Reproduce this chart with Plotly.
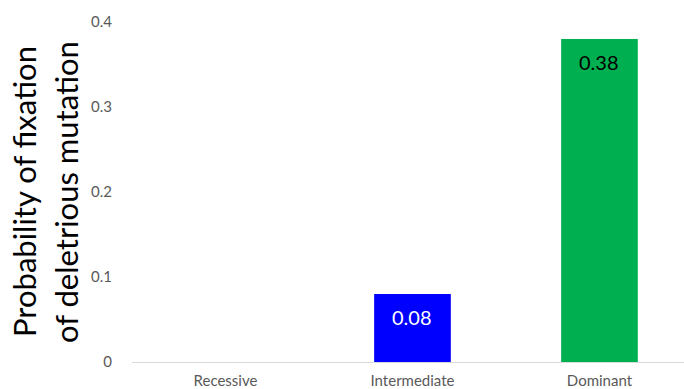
import plotly.graph_objects as go

categories = ["Recessive", "Intermediate", "Dominant"]
values = [0.0, 0.08, 0.38]
bar_colors = ["#ffffff", "#0000ff", "#00b050"]
label_colors = ["#000000", "#ffffff", "#000000"]
y_ticks = [0, 0.1, 0.2, 0.3, 0.4]
y_tick_text = ["0", "0.1", "0.2", "0.3", "0.4"]
title_lines = ["Probability of fixation", "of deletrious mutation"]

FONT = "Lato"
TICK_GREY = "#595959"

fig = go.Figure()
fig.add_trace(go.Bar(
    x=categories,
    y=values,
    marker=dict(color=bar_colors, line=dict(width=0)),
    hoverinfo="skip",
))

# value labels just inside the top of each visible bar
for cat, val, col in zip(categories, values, label_colors):
    if val <= 0:
        continue
    fig.add_annotation(
        x=cat, y=val, xref="x", yref="y",
        text=f"{val:.2f}", showarrow=False,
        yanchor="middle", yshift=-23,
        font=dict(family=FONT, size=20, color=col),
    )

# two-line rotated axis title
for line, shift in zip(title_lines, [-108, -66]):
    fig.add_annotation(
        x=0, y=0.5, xref="paper", yref="paper",
        text=line, showarrow=False, textangle=-90,
        xanchor="center", yanchor="middle",
        xshift=shift, yshift=0,
        font=dict(family=FONT, size=31, color="#000000"),
    )

fig.update_layout(
    width=684, height=389,
    margin=dict(l=132, r=0, t=22, b=27, pad=0),
    paper_bgcolor="white", plot_bgcolor="white",
    bargap=0.59,
    showlegend=False,
    font=dict(family=FONT),
)
fig.update_xaxes(
    range=[-0.5, 2.452], automargin=False,
    showline=True, linecolor="#d9d9d9", linewidth=1,
    showgrid=False, ticks="", zeroline=False,
    ticklabelstandoff=5,
    tickfont=dict(family=FONT, size=15, color=TICK_GREY),
)
fig.update_yaxes(
    range=[0, 0.4], tickvals=y_ticks, ticktext=y_tick_text,
    automargin=False,
    showline=False, showgrid=False, zeroline=False, ticks="",
    ticklabelstandoff=19,
    tickfont=dict(family=FONT, size=15, color=TICK_GREY),
)

fig.write_html("out.html")
